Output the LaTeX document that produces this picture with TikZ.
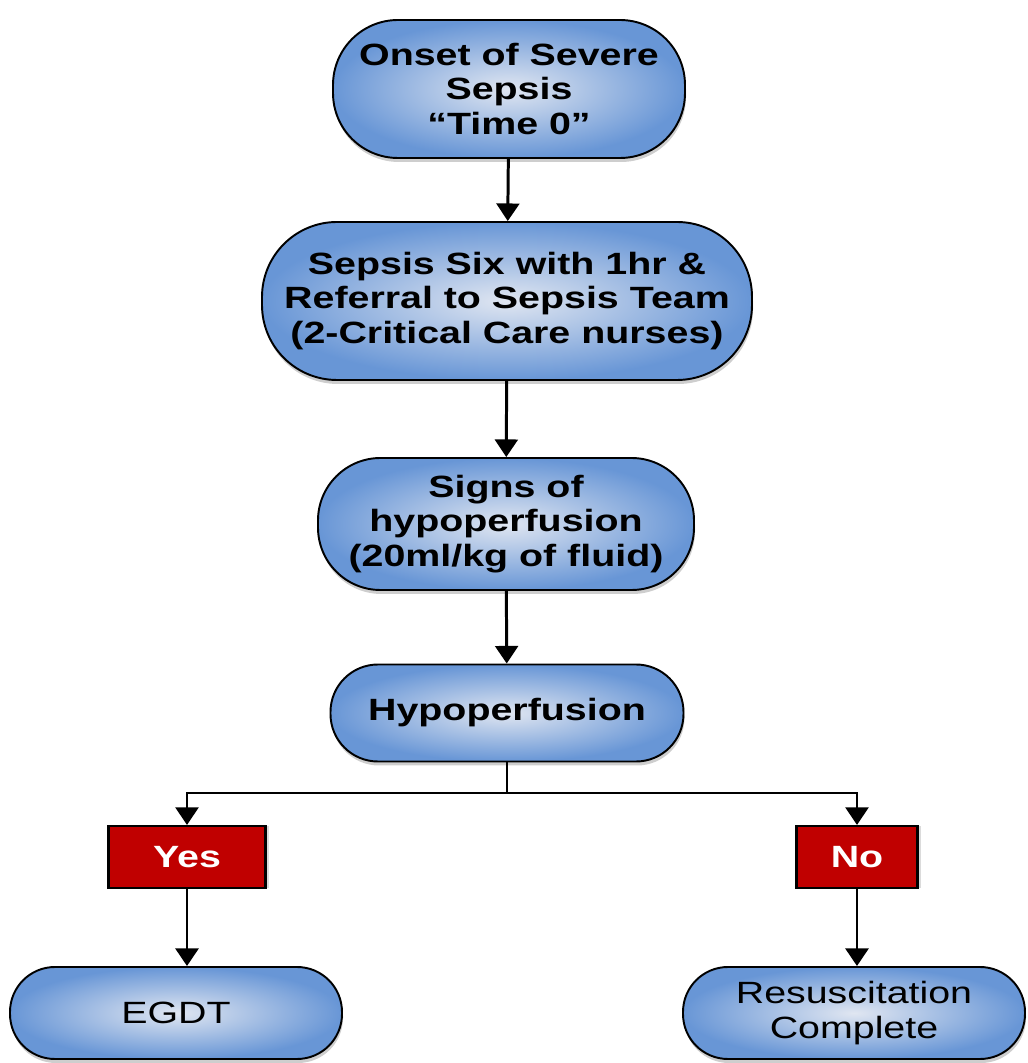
\documentclass[tikz,border=0pt]{standalone}
\usepackage{fontspec}
\setmainfont{Liberation Sans}[FakeStretch=1.28]
\usepackage{tikz}
\usetikzlibrary{positioning, arrows.meta, shadows}
\definecolor{pillin}{RGB}{224,230,241}
\definecolor{pillout}{RGB}{104,150,214}
\definecolor{answerred}{RGB}{192,0,0}

\tikzset{
    pill/.style={draw=black, line width=1.1pt, rounded corners=#1,
        inner color=pillin, outer color=pillout, align=center,
        font=\fontsize{17.5}{19.5}\selectfont\bfseries,
        drop shadow={shadow xshift=0.02cm, shadow yshift=-0.08cm, fill=gray!55, opacity=0.7}},
    answer/.style={draw=black, line width=1.2pt, fill=answerred, text=white,
        font=\fontsize{17.5}{19.5}\selectfont\bfseries,
        drop shadow={shadow xshift=0.07cm, shadow yshift=0cm, fill=gray!40, opacity=0.7}},
    flow/.style={line width=1.7pt, -{Triangle[width=13pt, length=10pt]}}
}

\begin{document}
\begin{tikzpicture}
            \useasboundingbox (0,0) rectangle (20.56,21.26);

            % Main steps
            \node[pill=1.3cm, minimum width=7.04cm, minimum height=2.76cm] (onset) at (10.18,19.48)
                {Onset of Severe\\Sepsis\\``Time 0''};
            \node[pill=1.5cm, minimum width=9.8cm, minimum height=3.16cm] (six) at (10.14,15.24)
                {Sepsis Six with 1hr \&\\Referral to Sepsis Team\\(2-Critical Care nurses)};
            \node[pill=1.25cm, minimum width=7.52cm, minimum height=2.64cm] (signs) at (10.12,10.78)
                {Signs of\\hypoperfusion\\(20ml/kg of fluid)};
            \node[pill=0.95cm, minimum width=7.06cm, minimum height=1.94cm] (hypo) at (10.14,7.0)
                {Hypoperfusion};

            % Yes / No
            \node[answer, minimum width=3.14cm, minimum height=1.24cm] (yes) at (3.74,4.12) {Yes};
            \node[answer, minimum width=2.42cm, minimum height=1.24cm] (no) at (17.14,4.12) {No};

            % Outcomes
            \node[pill=0.9cm, minimum width=6.64cm, minimum height=1.84cm, font=\fontsize{17.5}{19.5}\selectfont] (egdt) at (3.52,1.0)
                {EGDT};
            \node[pill=0.9cm, minimum width=6.84cm, minimum height=1.84cm, font=\fontsize{17.5}{19.5}\selectfont] (resus) at (17.08,1.0)
                {Resuscitation\\Complete};

            % Arrows
            \draw[flow] (onset) -- (six);
            \draw[flow] (six) -- (signs);
            \draw[flow] (signs) -- (hypo);
            \coordinate (split) at (10.14,5.4);
            \draw[line width=1.7pt] (hypo.south) -- (split);
            \draw[flow] (split) -| (yes.north);
            \draw[flow] (split) -| (no.north);
            \draw[flow] (yes.south) -- (yes.south |- egdt.north);
            \draw[flow] (no.south) -- (no.south |- resus.north);
        \end{tikzpicture}
\end{document}
